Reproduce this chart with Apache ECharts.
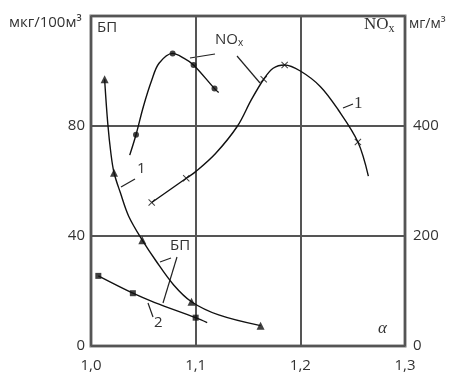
<!DOCTYPE html>
<html>
<head>
<meta charset="utf-8">
<script src="https://cdn.jsdelivr.net/npm/echarts@6/dist/echarts.min.js"></script>
<style>
html,body{margin:0;padding:0;background:#fff;}
#c{width:453px;height:375px;}
</style>
</head>
<body>
<div id="c"></div>
<script>
// x-axis: excess air ratio alpha
const xTicks = [1.0, 1.1, 1.2, 1.3];
const leftTicks = [0, 40, 80];       // БП, мкг/100м³
const rightTicks = [0, 200, 400];    // NOx, мг/м³

// NOx curve with dots (mg/m3)
const noxDotCurve = [[1.037,347],[1.043,384],[1.050,435],[1.058,483],[1.065,514],[1.078,532],[1.089,523],[1.098,511],[1.118,468],[1.122,461]];
const noxDotMarks = [[1.043,384],[1.078,532],[1.098,511],[1.118,468]];

// NOx curve 1 with crosses (mg/m3)
const noxCrossCurve = [[1.058,261],[1.091,305],[1.100,317],[1.119,350],[1.140,400],[1.153,447],[1.165,485],[1.174,505],[1.185,511],[1.200,500],[1.219,472],[1.236,430],[1.255,371],[1.265,309]];
const noxCrossMarks = [[1.058,261],[1.091,305],[1.165,485],[1.185,511],[1.255,371]];

// БП curve 1 with triangles (мкг/100м³)
const bp1Curve = [[1.013,97.0],[1.016,81.0],[1.019,70.1],[1.022,63.0],[1.028,55.8],[1.036,47.2],[1.049,38.5],[1.062,31.0],[1.079,22.2],[1.096,16.1],[1.122,11.3],[1.162,7.4]];
const bp1Marks = [[1.013,97.0],[1.022,63.0],[1.049,38.5],[1.096,16.1],[1.162,7.4]];

// БП curve 2 with squares (мкг/100м³)
const bp2Curve = [[1.007,25.5],[1.040,19.2],[1.061,15.8],[1.100,10.3],[1.111,8.5]];
const bp2Marks = [[1.007,25.5],[1.040,19.2],[1.100,10.3]];

const crossPath = 'path://M0,1L1,0L5,4L9,0L10,1L6,5L10,9L9,10L5,6L1,10L0,9L4,5Z';
const FONT = 'Open Sans';
const TXT = '#333';

function lineSeries(data, yi){
  return {type:'line', data:data, yAxisIndex:yi, smooth:0.35, showSymbol:false,
    lineStyle:{color:'#111', width:1.4}, z:3, silent:true};
}
function markSeries(data, yi, symbol, size){
  return {type:'scatter', data:data, yAxisIndex:yi, symbol:symbol, symbolSize:size,
    itemStyle:{color:'#111'}, z:4, silent:true};
}

const chart = echarts.init(document.getElementById('c'), null, {renderer:'canvas'});
const option = {
  animation:false,
  backgroundColor:'#fff',
  grid:{left:91, top:16, right:48, bottom:29, show:true, borderColor:'#777', borderWidth:3, backgroundColor:'transparent'},
  xAxis:{type:'value', min:xTicks[0], max:xTicks[xTicks.length-1], interval:0.1,
    axisLine:{show:false}, axisTick:{show:false},
    splitLine:{show:true, lineStyle:{color:'#555', width:2}},
    axisLabel:{margin:12, color:TXT, fontFamily:FONT, fontSize:15,
      formatter:function(v){ const t = xTicks.find(a=>Math.abs(a-v)<1e-6); return t===undefined?'':t.toFixed(1).replace('.',','); }}
  },
  yAxis:[
    {type:'value', min:0, max:120, interval:40, position:'left',
      axisLine:{show:false}, axisTick:{show:false},
      splitLine:{show:true, lineStyle:{color:'#555', width:2}},
      axisLabel:{margin:6, color:TXT, fontFamily:FONT, fontSize:15,
        formatter:function(v){ return leftTicks.indexOf(v)>=0 ? String(v) : ''; }}
    },
    {type:'value', min:0, max:600, interval:200, position:'right',
      axisLine:{show:false}, axisTick:{show:false}, splitLine:{show:false},
      axisLabel:{margin:8, color:TXT, fontFamily:FONT, fontSize:15,
        formatter:function(v){ return rightTicks.indexOf(v)>=0 ? String(v) : ''; }}
    }
  ],
  series:[
    lineSeries(noxDotCurve,1), markSeries(noxDotMarks,1,'circle',6),
    lineSeries(noxCrossCurve,1), markSeries(noxCrossMarks,1,crossPath,7),
    lineSeries(bp1Curve,0), markSeries(bp1Marks,0,'triangle',8),
    lineSeries(bp2Curve,0), markSeries(bp2Marks,0,'rect',6)
  ],
  graphic:[
    {type:'text', left:9, top:15, style:{text:'мкг/100м³', font:'15px "Open Sans"', fill:TXT}},
    {type:'text', left:97, top:20, style:{text:'БП', font:'15px "Open Sans"', fill:TXT}},
    {type:'text', left:364, top:16, style:{text:'{a|NO}{b|x}', fill:TXT,
      rich:{a:{font:'17px "Liberation Serif"', fill:TXT}, b:{font:'12px "Liberation Serif"', fill:TXT, padding:[8,0,0,0]}}}},
    {type:'text', left:409, top:17, style:{text:'мг/м³', font:'14px "Open Sans"', fill:TXT}},
    {type:'text', left:215, top:32, style:{text:'{a|NO}{b|x}', fill:TXT,
      rich:{a:{font:'15px "Open Sans"', fill:TXT}, b:{font:'10px "Open Sans"', fill:TXT, padding:[7,0,0,0]}}}},
    {type:'text', left:137, top:161, style:{text:'1', font:'15px "Open Sans"', fill:TXT}},
    {type:'text', left:354, top:95, style:{text:'1', font:'17px "Liberation Serif"', fill:TXT}},
    {type:'text', left:170, top:238, style:{text:'БП', font:'15px "Open Sans"', fill:TXT}},
    {type:'text', left:154, top:315, style:{text:'2', font:'15px "Open Sans"', fill:TXT}},
    {type:'text', left:378, top:320, style:{text:'α', font:'italic 17px "Liberation Serif"', fill:TXT}},
    // leader lines
    {type:'line', shape:{x1:190,y1:58,x2:215,y2:54}, style:{stroke:'#222', lineWidth:1.2}},
    {type:'line', shape:{x1:237,y1:56,x2:260,y2:83}, style:{stroke:'#222', lineWidth:1.2}},
    {type:'line', shape:{x1:121,y1:187,x2:135,y2:179}, style:{stroke:'#222', lineWidth:1.2}},
    {type:'line', shape:{x1:343,y1:108,x2:353,y2:104}, style:{stroke:'#222', lineWidth:1.2}},
    {type:'line', shape:{x1:160,y1:262,x2:171,y2:258}, style:{stroke:'#222', lineWidth:1.2}},
    {type:'line', shape:{x1:177,y1:257,x2:163,y2:303}, style:{stroke:'#222', lineWidth:1.2}},
    {type:'line', shape:{x1:148,y1:303,x2:153,y2:317}, style:{stroke:'#222', lineWidth:1.2}}
  ]
};
chart.setOption(option);
</script>
</body>
</html>
